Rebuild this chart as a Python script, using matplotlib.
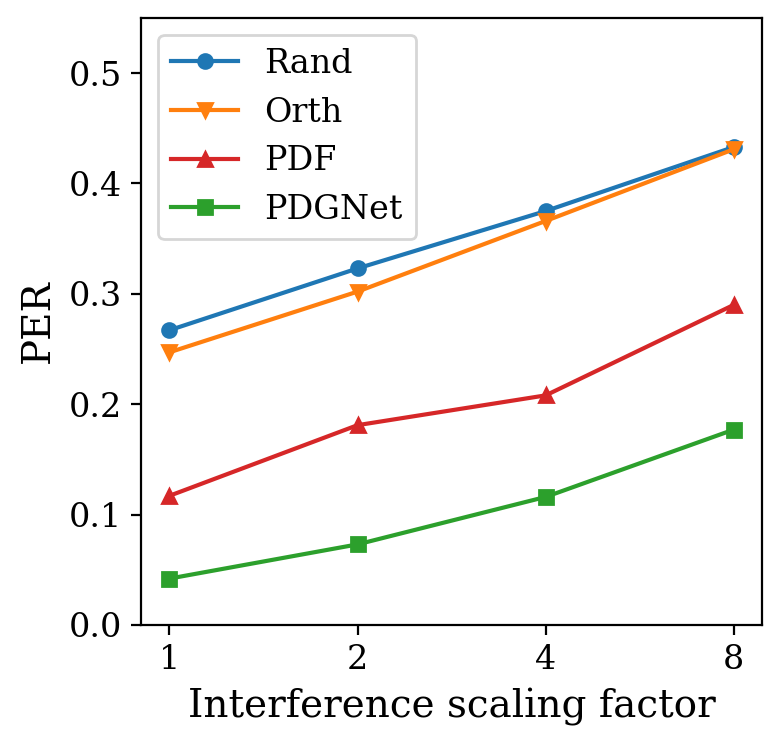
import numpy as np
import matplotlib
matplotlib.use("Agg")
import matplotlib.pyplot as plt

plt.rcParams['font.family'] = 'DejaVu Serif'

factors = ["1", "2", "4", "8"]
rand = [0.267, 0.323, 0.375, 0.433]
orth = [0.247, 0.302, 0.366, 0.431]
pdf = [0.117, 0.181, 0.208, 0.290]
pdgnet = [0.042, 0.073, 0.116, 0.177]

fig, ax = plt.subplots(figsize=(3.9, 3.72), dpi=200)
fig.subplots_adjust(left=0.181, right=0.977, top=0.976, bottom=0.16)

x = np.arange(len(factors))
ax.plot(x, rand, '-o', color='tab:blue', markersize=5, label='Rand')
ax.plot(x, orth, '-v', color='tab:orange', markersize=5, label='Orth')
ax.plot(x, pdf, '-^', color='tab:red', markersize=5, label='PDF')
ax.plot(x, pdgnet, '-s', color='tab:green', markersize=5, label='PDGNet')

ax.set_xticks(x)
ax.set_xticklabels(factors)
ax.set_ylim(0, 0.55)
ax.set_yticks([0.0, 0.1, 0.2, 0.3, 0.4, 0.5])
ax.tick_params(labelsize=12)
ax.set_xlabel("Interference scaling factor", fontsize=14)
ax.set_ylabel("PER", fontsize=14)
ax.legend(loc='upper left', fontsize=12)

plt.savefig("out.png")
